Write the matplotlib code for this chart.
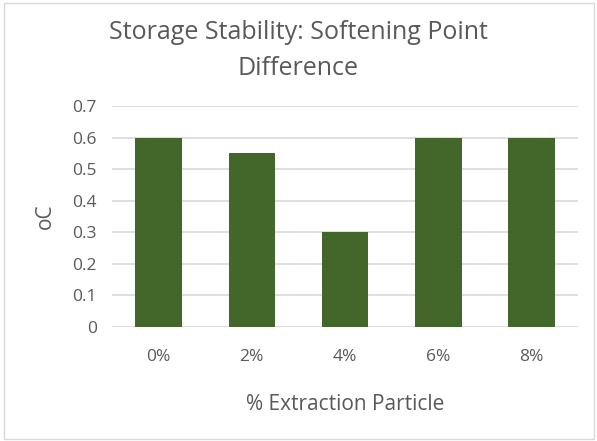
import matplotlib.pyplot as plt
from matplotlib.patches import Rectangle

# Données : différence de point de ramollissement selon le % de particules
categories = ['0%', '2%', '4%', '6%', '8%']
valeurs = [0.6, 0.55, 0.3, 0.6, 0.6]
graduations = [0, 0.1, 0.2, 0.3, 0.4, 0.5, 0.6, 0.7]
etiquettes_y = ['0', '0.1', '0.2', '0.3', '0.4', '0.5', '0.6', '0.7']

plt.rcParams['font.family'] = ['Open Sans', 'DejaVu Sans']
gris = '#595959'

fig = plt.figure(figsize=(5.97, 4.41), dpi=100)
ax = fig.add_axes([0.1876, 0.2585, 0.7806, 0.5011])

# Diagramme en barres
ax.bar(range(len(categories)), valeurs, width=0.5, color='#43672a', zorder=3)
ax.set_xlim(-0.5, len(categories) - 0.5)
ax.set_ylim(0, 0.7)
ax.set_yticks(graduations)
ax.set_yticklabels(etiquettes_y)
ax.set_xticks(range(len(categories)))
ax.set_xticklabels(categories)

# Lignes de grille horizontales, sans cadre
ax.grid(axis='y', color='#d9d9d9', linewidth=1.2, zorder=0)
for s in ax.spines.values():
    s.set_visible(False)
ax.tick_params(length=0, labelsize=12.5, labelcolor=gris)
ax.tick_params(axis='x', pad=16)
ax.tick_params(axis='y', pad=11)

ax.set_ylabel('oC', fontsize=15, color=gris, labelpad=12)
ax.set_xlabel('% Extraction Particle', fontsize=15, color=gris, labelpad=21)
fig.text(0.5, 0.885, 'Storage Stability: Softening Point\nDifference', ha='center', va='center',
         fontsize=18, color=gris, linespacing=1.6)

# Bordure du graphique
fig.patches.append(Rectangle((0.007, 0.005), 0.988, 0.988, transform=fig.transFigure,
                             fill=False, edgecolor='#d9d9d9', linewidth=1))

plt.savefig('out.png', dpi=100)
